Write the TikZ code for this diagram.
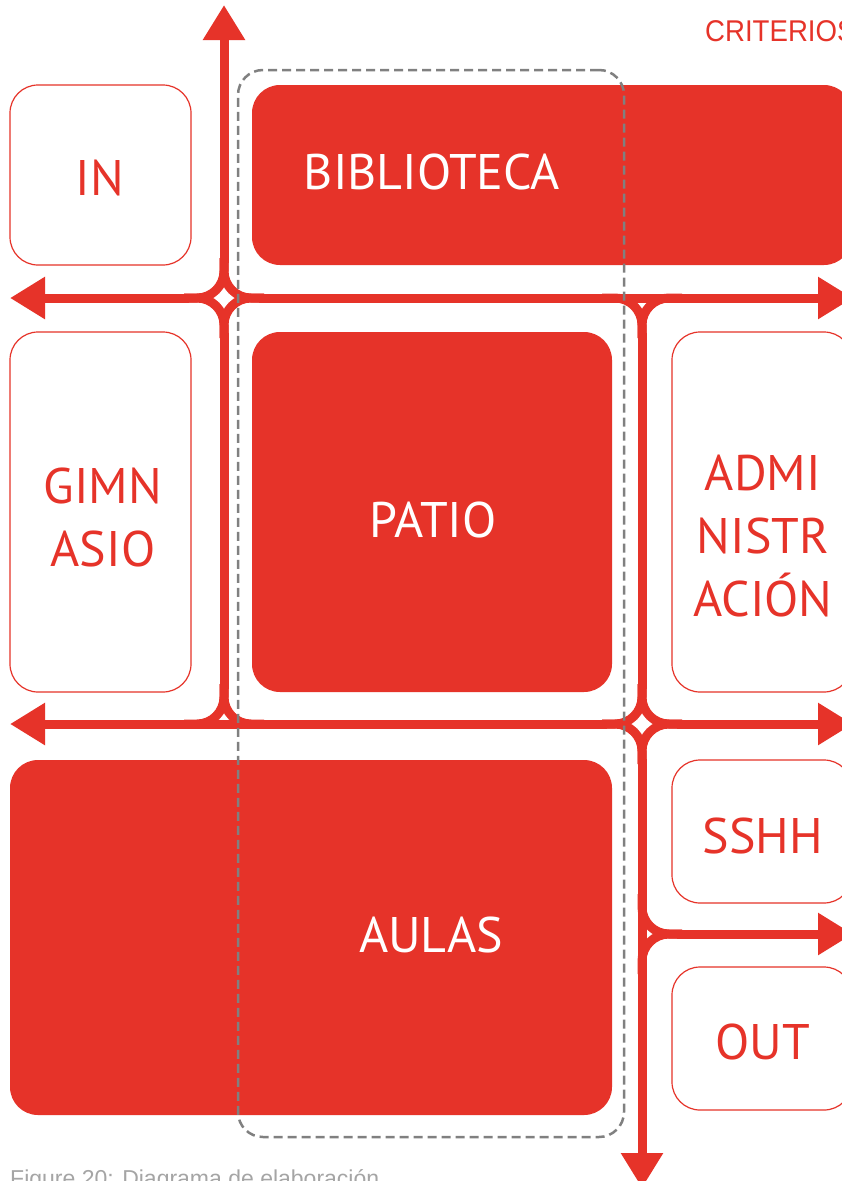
\documentclass[tikz,border=0pt]{standalone}
\usepackage{fontspec}
\usetikzlibrary{arrows.meta,calc}
\newfontfamily\boxfont{PT Sans}
\newfontfamily\labfont{Liberation Sans}
\definecolor{myred}{RGB}{230,51,41}
\definecolor{dashgray}{RGB}{128,128,128}
\definecolor{capgray}{RGB}{165,165,165}
\begin{document}
\begin{tikzpicture}[x=1pt,y=-1pt,
  road/.style={draw=myred, line width=9pt},
  fillet/.style={road, rounded corners=27pt},
  tip/.style={-{Triangle[length=35pt,width=40pt]}},
  fillbox/.style={rectangle, rounded corners=28pt, fill=myred, inner sep=0pt},
  openbox/.style={rectangle, rounded corners=28pt, draw=myred, line width=1.2pt, fill=white, inner sep=0pt},
  wlabel/.style={text=white, font=\boxfont\fontsize{50}{63}\selectfont, align=center, inner sep=0pt},
  rlabel/.style={text=myred, font=\boxfont\fontsize{50}{63}\selectfont, align=center, inner sep=0pt},
  zonebox/.style={rectangle, draw=dashgray, line width=2.5pt, dash pattern=on 9pt off 5pt, rounded corners=25pt, inner sep=0pt},
]
\useasboundingbox (0,0) rectangle (842,1181);
\clip (0,0) rectangle (842,1181);
\fill[white] (0,0) rectangle (842,1181);

% boxes
\node[openbox, minimum width=181pt, minimum height=180pt] (in) at (100.5,175) {};
\node[fillbox, minimum width=600pt, minimum height=180pt] (bib) at (552,175) {};
\node[openbox, minimum width=181pt, minimum height=360pt] (gim) at (100.5,512) {};
\node[fillbox, minimum width=360pt, minimum height=360pt] (patio) at (432,512) {};
\node[openbox, minimum width=180pt, minimum height=360pt] (adm) at (762,512) {};
\node[fillbox, minimum width=602pt, minimum height=355pt] (aulas) at (311,937.5) {};
\node[openbox, minimum width=180pt, minimum height=143pt] (sshh) at (762,831.5) {};
\node[openbox, minimum width=180pt, minimum height=143pt] (out) at (762,1038.5) {};

% labels
\node[rlabel] (intext) at (100,178) {IN};
\node[wlabel] (bibtext) at (432,172) {BIBLIOTECA};
\node[rlabel] (gimtext) at (103,517.5) {GIMN\\ASIO};
\node[wlabel] (patiotext) at (433,520) {PATIO};
\node[rlabel] (admtext) at (763,536) {ADMI\\NISTR\\ACIÓN};
\node[wlabel] (aulastext) at (431,935) {AULAS};
\node[rlabel] (sshhtext) at (763,836) {SSHH};
\node[rlabel] (outtext) at (763,1042) {OUT};
\node[anchor=base west, text=myred, font=\labfont\fontsize{30}{34}\selectfont, inner sep=0pt] (crit) at (705,41) {\scalebox{0.92}[1]{CRITERIOS}};
\node[anchor=base west, text=capgray, font=\labfont\fontsize{23}{27}\selectfont, inner sep=0pt] (cap) at (10,1186) {Figure 20: Diagrama de elaboración};

% junctions and road ends
\coordinate (A) at (224,298);
\coordinate (B) at (642,298);
\coordinate (C) at (224,724);
\coordinate (D) at (642,724);
\coordinate (E) at (642,934);
\coordinate (topT) at (224,5);
\coordinate (leftT1) at (10,298);
\coordinate (rightT1) at (853,298);
\coordinate (leftT2) at (10,724);
\coordinate (rightT2) at (853,724);
\coordinate (rightT3) at (853,934);
\coordinate (botT) at (642,1188);

% straight roads
\draw[road, tip] ($(A)+(0,-35)$) -- (topT);
\draw[road, tip] ($(A)+(-35,0)$) -- (leftT1);
\draw[road, tip] ($(A)+(35,0)$) -- (rightT1);
\draw[road] ($(A)+(0,35)$) -- ($(C)+(0,-35)$);
\draw[road] ($(B)+(0,35)$) -- ($(D)+(0,-35)$);
\draw[road, tip] ($(D)+(-35,0)$) -- (leftT2);
\draw[road, tip] ($(D)+(35,0)$) -- (rightT2);
\draw[road, tip] ($(D)+(0,35)$) -- (botT);
\draw[road, tip] ($(E)+(35,0)$) -- (rightT3);

% fillets at A (four-way)
\draw[fillet] ($(A)+(0,-40)$) -- (A) -- ($(A)+(-40,0)$);
\draw[fillet] ($(A)+(0,-40)$) -- (A) -- ($(A)+(40,0)$);
\draw[fillet] ($(A)+(0,40)$) -- (A) -- ($(A)+(-40,0)$);
\draw[fillet] ($(A)+(0,40)$) -- (A) -- ($(A)+(40,0)$);
% fillets at B (T down)
\draw[fillet] ($(B)+(-40,0)$) -- (B) -- ($(B)+(0,40)$);
\draw[fillet] ($(B)+(40,0)$) -- (B) -- ($(B)+(0,40)$);
% fillets at C (T up)
\draw[fillet] ($(C)+(0,-40)$) -- (C) -- ($(C)+(-40,0)$);
\draw[fillet] ($(C)+(0,-40)$) -- (C) -- ($(C)+(40,0)$);
% fillets at D (four-way)
\draw[fillet] ($(D)+(0,-40)$) -- (D) -- ($(D)+(-40,0)$);
\draw[fillet] ($(D)+(0,-40)$) -- (D) -- ($(D)+(40,0)$);
\draw[fillet] ($(D)+(0,40)$) -- (D) -- ($(D)+(-40,0)$);
\draw[fillet] ($(D)+(0,40)$) -- (D) -- ($(D)+(40,0)$);
% fillets at E (T right)
\draw[fillet] ($(E)+(0,-40)$) -- (E) -- ($(E)+(40,0)$);
\draw[fillet] ($(E)+(0,40)$) -- (E) -- ($(E)+(40,0)$);

% dashed zone
\node[zonebox, minimum width=386pt, minimum height=1067pt] (zone) at (431,603.5) {};
\end{tikzpicture}
\end{document}
